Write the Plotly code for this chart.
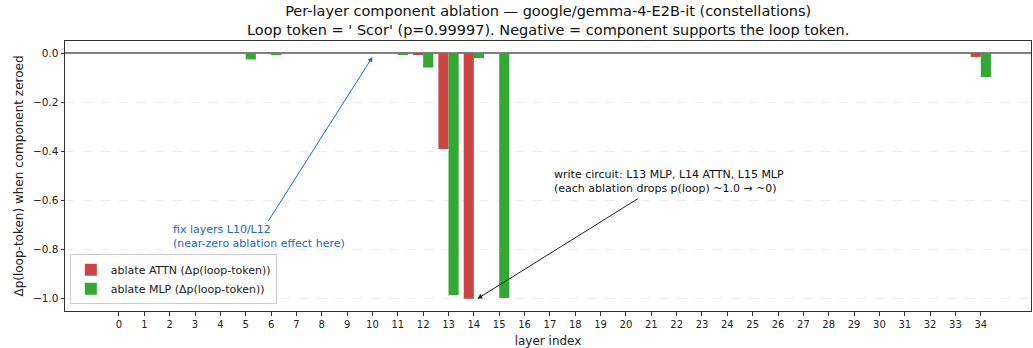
import plotly.graph_objects as go

layers = list(range(35))
attn = [0.0] * 35
mlp = [0.0] * 35
attn_vals = {12: -0.003, 13: -0.39, 14: -1.0, 34: -0.015}
mlp_vals = {5: -0.025, 6: -0.003, 11: -0.003, 12: -0.058, 13: -0.985, 14: -0.02, 15: -0.997, 34: -0.097}
for k, v in attn_vals.items():
    attn[k] = v
for k, v in mlp_vals.items():
    mlp[k] = v

title_lines = ["Per-layer component ablation — google/gemma-4-E2B-it (constellations)",
               "Loop token = ' Scor' (p=0.99997). Negative = component supports the loop token."]
font = "DejaVu Sans"

fig = go.Figure()
fig.add_trace(go.Bar(x=layers, y=attn, width=0.4, offset=-0.4, name="ablate ATTN (Δp(loop-token))",
                     marker=dict(color="#cc4444", line=dict(width=0))))
fig.add_trace(go.Bar(x=layers, y=mlp, width=0.4, offset=0.0, name="ablate MLP (Δp(loop-token))",
                     marker=dict(color="#33a833", line=dict(width=0))))

fig.update_layout(
    width=1033, height=348,
    margin=dict(l=65, r=2, t=41, b=37),
    paper_bgcolor="white", plot_bgcolor="white",
    barmode="overlay",
    font=dict(family=font, size=10, color="#222"),
    showlegend=True,
    legend=dict(x=0.005, y=0.025, xanchor="left", yanchor="bottom",
                bgcolor="rgba(255,255,255,0.85)", bordercolor="#cccccc", borderwidth=1,
                font=dict(size=11, family=font), tracegroupgap=0, itemwidth=30),
)
fig.update_xaxes(range=[-2.13, 35.98], tickmode="array", tickvals=layers, ticktext=[str(i) for i in layers],
                 tickfont=dict(size=10), ticks="outside", ticklen=3.5, tickcolor="#333",
                 showline=True, linecolor="#333", linewidth=1, mirror=True, showgrid=False, zeroline=False,
                 title=dict(text="layer index", font=dict(size=12), standoff=8))
fig.update_yaxes(range=[-1.05, 0.05], tickmode="array", tickvals=[-1.0, -0.8, -0.6, -0.4, -0.2, 0.0],
                 tickformat=".1f", tickfont=dict(size=10.5), ticks="outside", ticklen=3.5, tickcolor="#333",
                 showline=True, linecolor="#333", linewidth=1, mirror=True,
                 showgrid=True, gridcolor="#eeeeee", griddash="dash", gridwidth=1,
                 zeroline=True, zerolinecolor="#808080", zerolinewidth=1.5,
                 title=dict(text="Δp(loop-token) when component zeroed", font=dict(size=12), standoff=6))

fig.add_annotation(xref="paper", yref="paper", x=0.5, y=1, yshift=40, yanchor="top", showarrow=False,
                   text="<br>".join(title_lines), font=dict(size=14.5, family=font, color="#111"))

blue = "#2266c4"
fig.add_annotation(x=10, y=-0.015, ax=5.85, ay=-0.69, xref="x", yref="y", axref="x", ayref="y",
                   text="", showarrow=True, arrowhead=2, arrowsize=1, arrowwidth=1, arrowcolor=blue)
fig.add_annotation(x=2.05, y=-0.685, xref="x", yref="y", xanchor="left", yanchor="top", align="left",
                   showarrow=False, text="fix layers L10/L12<br>(near-zero ablation effect here)",
                   font=dict(size=11, color=blue, family=font))
fig.add_annotation(x=14.14, y=-1.0, ax=20.54, ay=-0.588, xref="x", yref="y", axref="x", ayref="y",
                   text="", showarrow=True, arrowhead=2, arrowsize=1, arrowwidth=1, arrowcolor="#222")
fig.add_annotation(x=17.1, y=-0.46, xref="x", yref="y", xanchor="left", yanchor="top", align="left",
                   showarrow=False, text="write circuit: L13 MLP, L14 ATTN, L15 MLP<br>(each ablation drops p(loop) ~1.0 → ~0)",
                   font=dict(size=11, color="#111", family=font))

fig.write_html("out.html")
